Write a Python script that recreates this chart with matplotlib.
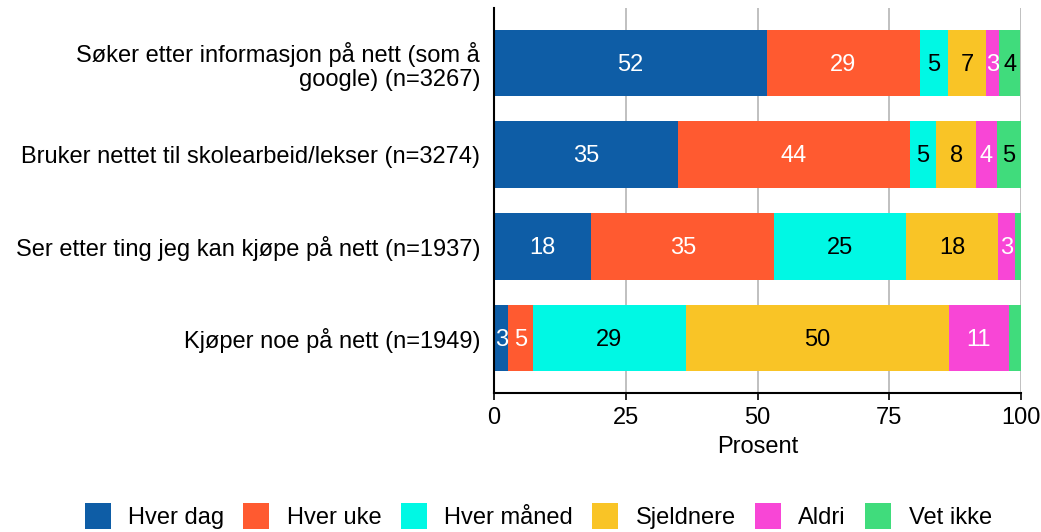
import matplotlib

matplotlib.use("Agg")
import matplotlib.pyplot as plt
import numpy as np

plt.rcParams["font.family"] = ["Liberation Sans", "DejaVu Sans"]

categories = [
    "Søker etter informasjon på nett (som å\ngoogle) (n=3267)",
    "Bruker nettet til skolearbeid/lekser (n=3274)",
    "Ser etter ting jeg kan kjøpe på nett (n=1937)",
    "Kjøper noe på nett (n=1949)",
]
series = ["Hver dag", "Hver uke", "Hver måned", "Sjeldnere", "Aldri", "Vet ikke"]
values = {
    "Hver dag": [51.8, 34.9, 18.4, 2.7],
    "Hver uke": [29.0, 44.0, 34.8, 4.7],
    "Hver måned": [5.4, 5.0, 24.9, 29.0],
    "Sjeldnere": [7.1, 7.6, 17.6, 49.9],
    "Aldri": [2.6, 3.9, 3.1, 11.4],
    "Vet ikke": [4.0, 4.6, 1.3, 2.3],
}
colors = ["#0E5DA6", "#FF5A30", "#00F8E4", "#F9C426", "#F846D6", "#40DC7C"]
text_colors = ["white", "white", "black", "black", "white", "black"]

FS = 17

fig = plt.figure(figsize=(10.41, 5.32), dpi=100)
ax = fig.add_axes([0.4746, 0.2613, 0.5062, 0.7237])

y = np.arange(len(categories))
left = np.zeros(len(categories))
for name, col, tcol in zip(series, colors, text_colors):
    vals = np.array(values[name])
    ax.barh(y, vals, left=left, height=0.73, color=col, label=name, zorder=2)
    for yi, l, v in zip(y, left, vals):
        if round(v) >= 3:
            ax.text(l + v / 2, yi + 0.02, f"{round(v):.0f}", ha="center", va="center",
                    color=tcol, fontsize=FS, zorder=3)
    left += vals

ax.set_ylim(3.6, -0.6)
ax.set_xlim(0, 100)
ax.set_xticks([0, 25, 50, 75, 100])
ax.set_yticks(y, categories)
ax.tick_params(axis="y", length=0, pad=10, labelsize=FS)
ax.tick_params(axis="x", labelsize=FS, length=5, width=1.2, pad=5)
for lbl in ax.get_yticklabels():
    lbl.set_ha("right")
    lbl.set_multialignment("right")
    lbl.set_linespacing(1.1)
ax.set_xlabel("Prosent", fontsize=FS, labelpad=5)
ax.grid(axis="x", color="#BBBBBB", lw=1.3, zorder=0)
ax.spines[["top", "right"]].set_visible(False)
ax.spines["left"].set_linewidth(1.5)
ax.spines["bottom"].set_linewidth(1.5)

fig.legend(loc="center", bbox_to_anchor=(0.517, 0.03), ncol=6, frameon=False,
           fontsize=FS, handlelength=1.1, handleheight=1.3, columnspacing=0.8,
           handletextpad=0.75)

fig.savefig("out.png", dpi=100)
